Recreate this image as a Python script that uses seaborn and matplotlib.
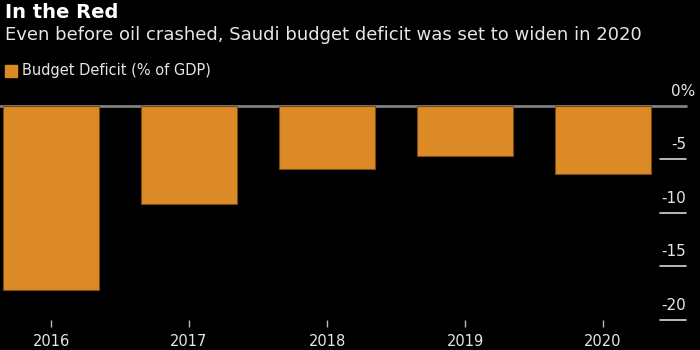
import matplotlib
matplotlib.use("Agg")
import matplotlib.pyplot as plt
import matplotlib.transforms as mtransforms
import seaborn as sns
import pandas as pd

# data
years = ["2016", "2017", "2018", "2019", "2020"]
deficit = [-17.2, -9.2, -5.9, -4.7, -6.4]
yticks = [0, -5, -10, -15, -20]
ytick_labels = ["0%", "-5", "-10", "-15", "-20"]

orange = "#dc8a26"
bg = "black"
fg = "#e6e6e6"

sns.set_style("dark", {"axes.facecolor": bg, "figure.facecolor": bg,
                       "xtick.bottom": True})
plt.rcParams['font.family'] = ['DejaVu Sans']

df = pd.DataFrame({"year": years, "deficit": deficit})

fig = plt.figure(figsize=(7, 3.5), dpi=100)
fig.patch.set_facecolor(bg)
ax = fig.add_axes([0.0, 30 / 350, 686 / 700, (320 - 105.7) / 350])

sns.barplot(data=df, x="year", y="deficit", color=orange, saturation=1,
            width=0.7, edgecolor="#7a4c12", linewidth=0.8, ax=ax)

ax.set_xlim(-51 / 138, (686 - 51) / 138)
ax.set_ylim(-20, 0)
ax.set_xlabel("")
ax.set_ylabel("")
for s in ax.spines.values():
    s.set_visible(False)
ax.grid(False)

# zero line across the plot
ax.axhline(0, color="#808080", lw=2, zorder=0.5, clip_on=False)

# right-side tick marks and labels, drawn inside the axes
ax.set_yticks([])
x_right = ax.get_xlim()[1]
tick_len = 26 / 138
for v, lab in zip(yticks, ytick_labels):
    if v != 0:
        ax.plot([x_right - tick_len, x_right], [v, v], color="#d8d8d8",
                lw=1.2, clip_on=False)
    off = mtransforms.offset_copy(ax.transData, fig=fig, x=0, y=5, units="points")
    if lab.endswith("%"):
        off = mtransforms.offset_copy(ax.transData, fig=fig, x=7, y=5, units="points")
    ax.text(x_right, v, lab, ha="right", va="bottom", color=fg,
            fontsize=11, transform=off, clip_on=False)

ax.tick_params(axis="x", bottom=True, colors="#bbbbbb", length=5, width=1,
               pad=5, labelsize=10.5, labelcolor=fg, direction="out")

# titles and legend
fig.text(5 / 700, 1 - 3 / 350, "In the Red", color="white", fontsize=14,
         fontweight="bold", ha="left", va="top")
fig.text(5 / 700, 1 - 26 / 350,
         "Even before oil crashed, Saudi budget deficit was set to widen in 2020",
         color=fg, fontsize=13, ha="left", va="top")
fig.patches.append(plt.Rectangle((5 / 700, 1 - 77 / 350), 12 / 700, 12 / 350,
                                 transform=fig.transFigure, color=orange))
fig.text(22 / 700, 1 - 71 / 350, "Budget Deficit (% of GDP)", color=fg,
         fontsize=10.5, ha="left", va="center")

fig.savefig("out.png", dpi=100, facecolor=bg)
